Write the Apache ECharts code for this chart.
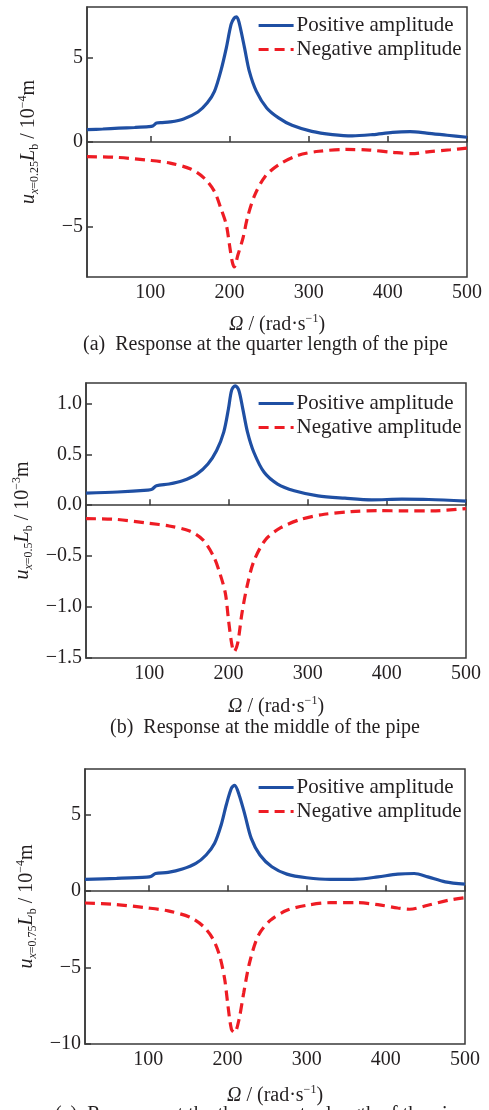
<!DOCTYPE html>
<html><head><meta charset="utf-8">
<script src="https://cdn.jsdelivr.net/npm/echarts@6/dist/echarts.min.js"></script>
<style>html,body{margin:0;padding:0;background:#fff}#c{width:489px;height:1110px}</style>
</head><body><div id="c"></div>
<script>
// ---- Data ----
const seriesNames = ['Positive amplitude', 'Negative amplitude'];
const captions = [
  '(a)  Response at the quarter length of the pipe',
  '(b)  Response at the middle of the pipe',
  '(c)  Response at the three-quarter length of the pipe'
];
const xTicks = [100, 200, 300, 400, 500];
const yTicksA = [-5, 0, 5];
const yTicksB = [-1.5, -1.0, -0.5, 0.0, 0.5, 1.0];
const yTicksC = [-10, -5, 0, 5];

// (a) x = 0.25 Lb, unit 1e-4 m
const omegaA_pos = [20, 40, 60, 80, 98, 103, 108, 115, 125, 142, 160, 172, 181, 189, 196, 202, 206, 209, 212, 219, 225, 234, 247, 262, 279, 304, 330, 355, 381, 406, 428, 449, 475, 500];
const ampA_pos   = [0.73, 0.77, 0.82, 0.86, 0.91, 0.95, 1.12, 1.15, 1.19, 1.37, 1.78, 2.32, 3.0, 4.2, 5.58, 6.97, 7.35, 7.42, 7.1, 5.58, 4.2, 3.0, 2.02, 1.43, 0.99, 0.63, 0.44, 0.36, 0.44, 0.57, 0.61, 0.53, 0.40, 0.28];
const omegaA_neg = [20, 57, 100, 125, 151, 168, 181, 189, 196, 200, 203.5, 206, 210.6, 217, 223, 232, 245, 262, 287, 313, 347, 377, 406, 430, 453, 479, 500];
const ampA_neg   = [-0.87, -0.91, -1.09, -1.25, -1.6, -2.14, -2.93, -3.92, -4.91, -6.1, -7.1, -7.4, -6.7, -5.7, -4.42, -3.13, -2.04, -1.35, -0.79, -0.55, -0.44, -0.48, -0.61, -0.69, -0.57, -0.46, -0.36];

// (b) x = 0.5 Lb, unit 1e-3 m
const omegaB_pos = [20, 60, 98, 103, 109, 125, 142, 160, 174, 185, 194, 200, 204, 208.5, 213, 218, 224, 232, 245, 262, 283, 313, 347, 381, 419, 453, 500];
const ampB_pos   = [0.119, 0.13, 0.148, 0.155, 0.191, 0.208, 0.24, 0.306, 0.405, 0.537, 0.718, 0.949, 1.13, 1.173, 1.13, 0.949, 0.718, 0.52, 0.323, 0.208, 0.142, 0.092, 0.069, 0.053, 0.059, 0.056, 0.04];
const omegaB_neg = [20, 57, 100, 125, 151, 168, 181, 189, 196, 200, 204, 207, 211.5, 217, 223.4, 232, 247, 266, 291.5, 321, 355, 389, 423, 457, 500];
const ampB_neg   = [-0.132, -0.138, -0.178, -0.204, -0.254, -0.343, -0.5, -0.666, -0.863, -1.127, -1.358, -1.44, -1.358, -1.06, -0.797, -0.55, -0.336, -0.221, -0.138, -0.089, -0.063, -0.053, -0.056, -0.056, -0.033];

// (c) x = 0.75 Lb, unit 1e-4 m
const omegaC_pos = [20, 60, 98, 103, 109, 125, 143, 160, 173, 183.7, 192, 198.5, 205, 209, 214.6, 222, 230, 241, 256, 275, 300, 330, 364, 390, 415, 436, 453, 475, 500];
const ampC_pos   = [0.77, 0.84, 0.92, 0.96, 1.16, 1.23, 1.45, 1.82, 2.37, 3.14, 4.34, 5.66, 6.75, 6.93, 6.32, 5.0, 3.46, 2.37, 1.6, 1.12, 0.88, 0.77, 0.79, 0.94, 1.12, 1.16, 0.94, 0.61, 0.46];
const omegaC_neg = [20, 57, 100, 125, 152, 169, 181.5, 190, 196.4, 200.6, 205, 209, 214.6, 220.6, 228, 239, 254, 275, 300, 330, 364, 390, 415, 430, 453, 479, 500];
const ampC_neg   = [-0.77, -0.86, -1.1, -1.29, -1.69, -2.28, -3.11, -4.21, -5.75, -7.5, -9.04, -9.25, -8.38, -6.62, -4.65, -2.89, -1.91, -1.25, -0.92, -0.75, -0.75, -0.88, -1.1, -1.18, -0.92, -0.59, -0.42];

// ---- Styling ----
const FONT = 'Liberation Serif';
const TXT = '#231f20';
const AX = '#3a3a3a';
const BLUE = '#1f4fa3';
const RED = '#ee1c24';
const zip = (xs, ys) => xs.map((x, i) => [x, ys[i]]);

const rich = {
  n: {fontFamily: FONT, fontSize: 20, color: TXT, lineHeight: 24},
  i: {fontFamily: FONT, fontSize: 20, color: TXT, fontStyle: 'italic', lineHeight: 24},
  s: {fontFamily: FONT, fontSize: 12, color: TXT, verticalAlign: 'bottom', lineHeight: 10},
  si: {fontFamily: FONT, fontSize: 12, color: TXT, fontStyle: 'italic', verticalAlign: 'bottom', lineHeight: 10},
  p: {fontFamily: FONT, fontSize: 12, color: TXT, verticalAlign: 'top', lineHeight: 10}
};

const grids = [
  {left: 87, top: 7, width: 380, height: 270},
  {left: 86, top: 383, width: 380, height: 275},
  {left: 85, top: 769, width: 380, height: 275}
];
const yRanges = [[-8, 8], [-1.5, 1.2], [-10, 8]];
const yTicks = [yTicksA, yTicksB, yTicksC];
const yNames = [
  '{i|u}{si|x}{s|=0.25}{i|L}{s|b}{n| / 10}{p|−4}{n|m}',
  '{i|u}{si|x}{s|=0.5}{i|L}{s|b}{n| / 10}{p|−3}{n|m}',
  '{i|u}{si|x}{s|=0.75}{i|L}{s|b}{n| / 10}{p|−4}{n|m}'
];
const xNameGaps = [36, 37, 40];
const legendTops = [15, 393, 777];
const captionPos = [[83, 335], [110, 718], [55, 1105]];

const fmtInt = v => (v < 0 ? '−' : '') + Math.abs(v);
const fmtDec = v => (v < 0 ? '−' : '') + Math.abs(v).toFixed(1);

const xAxes = grids.map((g, k) => ({
  type: 'value', gridIndex: k, min: 20, max: 500,
  name: '{i|Ω}{n| / (rad·s}{p|−1}{n|)}', nameLocation: 'middle', nameGap: xNameGaps[k],
  nameTextStyle: {rich: rich},
  axisLine: {show: true, lineStyle: {color: AX, width: 1.5}},
  axisTick: {show: true, inside: true, length: 6, customValues: xTicks, lineStyle: {color: AX, width: 1.5}},
  axisLabel: {customValues: xTicks, margin: 6, fontFamily: FONT, fontSize: 20, color: TXT},
  splitLine: {show: false}
}));
const yAxes = grids.map((g, k) => ({
  type: 'value', gridIndex: k, min: yRanges[k][0], max: yRanges[k][1],
  name: yNames[k], nameLocation: 'middle', nameGap: 46, nameRotate: 90,
  nameTextStyle: {rich: rich},
  axisLine: {show: true, lineStyle: {color: AX, width: 1.5}},
  axisTick: {show: true, inside: true, length: 6, customValues: yTicks[k], lineStyle: {color: AX, width: 1.5}},
  axisLabel: {customValues: yTicks[k], margin: 4, fontFamily: FONT, fontSize: 20, color: TXT,
    formatter: k === 1 ? fmtDec : fmtInt},
  splitLine: {show: false}
}));

const posData = [zip(omegaA_pos, ampA_pos), zip(omegaB_pos, ampB_pos), zip(omegaC_pos, ampC_pos)];
const negData = [zip(omegaA_neg, ampA_neg), zip(omegaB_neg, ampB_neg), zip(omegaC_neg, ampC_neg)];
const series = [];
grids.forEach((g, k) => {
  series.push({type: 'line', name: seriesNames[0], xAxisIndex: k, yAxisIndex: k, data: posData[k],
    symbol: 'none', smooth: 0.3, lineStyle: {color: BLUE, width: 3.2}, itemStyle: {color: BLUE}});
  series.push({type: 'line', name: seriesNames[1], xAxisIndex: k, yAxisIndex: k, data: negData[k],
    symbol: 'none', smooth: 0.3, lineStyle: {color: RED, width: 3.2, type: [10, 6]}, itemStyle: {color: RED}});
});

const option = {
  backgroundColor: '#fff',
  animation: false,
  title: captions.map((t, k) => ({text: t, left: captionPos[k][0], top: captionPos[k][1], padding: 0,
    textStyle: {fontFamily: FONT, fontSize: 20, fontWeight: 'normal', color: TXT}})),
  legend: grids.map((g, k) => ({
    data: seriesNames, orient: 'vertical', left: 257, top: legendTops[k], padding: 0,
    itemWidth: 35, itemHeight: 20, itemGap: 3, selectedMode: false,
    itemStyle: {color: 'rgba(0,0,0,0)', borderColor: 'rgba(0,0,0,0)', borderWidth: 0},
    lineStyle: {width: 3.2},
    textStyle: {fontFamily: FONT, fontSize: 21, color: TXT, padding: [0, 0, 0, -2]}
  })),
  grid: grids.map(g => Object.assign({show: true, borderColor: AX, borderWidth: 1.5, backgroundColor: 'transparent'}, g)),
  xAxis: xAxes,
  yAxis: yAxes,
  series: series
};
const chart = echarts.init(document.getElementById('c'), null, {renderer: 'canvas'});
chart.setOption(option);
</script></body></html>
